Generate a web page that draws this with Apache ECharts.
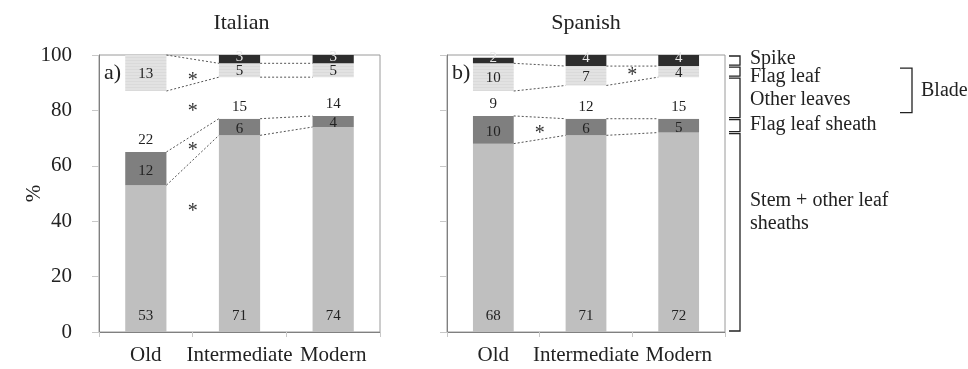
<!DOCTYPE html>
<html>
<head>
<meta charset="utf-8">
<script src="https://cdn.jsdelivr.net/npm/echarts@6/dist/echarts.min.js"></script>
<style>
  html, body { margin: 0; padding: 0; background: #fff; }
  #chart { width: 968px; height: 369px; }
</style>
</head>
<body>
<div id="chart"></div>
<script>
// Cultivar groups and y-axis ticks
const categories = ['Old', 'Intermediate', 'Modern'];
const yTicks = [0, 20, 40, 60, 80, 100];

// Italian cultivars: share of biomass (%) per organ, listed from the bottom of the stack up
const itStem = [53, 71, 74];
const itFlagSheath = [12, 6, 4];
const itOtherLeaves = [22, 15, 14];
const itFlagLeaf = [13, 5, 5];
const itSpike = [0, 3, 3];

// Spanish cultivars
const esStem = [68, 71, 72];
const esFlagSheath = [10, 6, 5];
const esOtherLeaves = [9, 12, 15];
const esFlagLeaf = [10, 7, 4];
const esSpike = [2, 4, 4];

const organNames = ['Stem + other leaf sheaths', 'Flag leaf sheath', 'Other leaves', 'Flag leaf', 'Spike'];

// Significant differences: [gap after category index, height in %]
const itSignif = [[0, 92], [0, 81], [0, 67], [0, 45]];
const esSignif = [[0, 73], [1, 94]];

const FONT = '"Liberation Serif", "Times New Roman", serif';
const INK = '#222';
const BAR_FRAC = 0.44;

const organLook = [
  { color: '#bfbfbf', label: { position: 'insideBottom', distance: 8 } },
  { color: '#7f7f7f', label: { position: 'inside', offset: [0, 2] } },
  { color: '#ffffff', label: { position: 'insideBottom', distance: 4 } },
  { color: '#e2e2e2', label: { position: 'inside', offset: [0, 1] },
    decal: { symbol: 'rect', symbolSize: 1, dashArrayX: [1, 0], dashArrayY: [1, 2], color: 'rgba(0,0,0,0.035)' } },
  { color: '#2d2d2d', label: { position: 'inside', offset: [0, -2], color: '#e8e8e8' } }
];

function barSeries(arrays, gridIdx, stackName) {
  return arrays.map((vals, k) => ({
    name: organNames[k],
    type: 'bar',
    stack: stackName,
    xAxisIndex: gridIdx,
    yAxisIndex: gridIdx,
    barWidth: (BAR_FRAC * 100) + '%',
    data: vals,
    itemStyle: Object.assign({ color: organLook[k].color }, organLook[k].decal ? { decal: organLook[k].decal } : {}),
    label: Object.assign({
      show: true,
      fontFamily: FONT,
      fontSize: 15,
      color: INK,
      formatter: p => (p.value > 0 ? String(p.value) : '')
    }, organLook[k].label),
    emphasis: { disabled: true },
    silent: true
  }));
}

// cumulative heights of the four inner boundaries of each stacked bar
function boundaries(arrays) {
  return categories.map((_, i) => {
    let s = 0;
    return arrays.slice(0, 4).map(a => (s += a[i]));
  });
}

function connectorSeries(arrays, gridIdx) {
  const tops = boundaries(arrays);
  const data = [];
  for (let i = 0; i < categories.length - 1; i++) {
    for (let k = 0; k < 4; k++) data.push([i, k]);
  }
  return {
    type: 'custom',
    xAxisIndex: gridIdx,
    yAxisIndex: gridIdx,
    silent: true,
    z: 5,
    data: data,
    renderItem: (params, api) => {
      const i = api.value(0), k = api.value(1);
      const p1 = api.coord([i, tops[i][k]]);
      const p2 = api.coord([i + 1, tops[i + 1][k]]);
      const half = api.size([1, 0])[0] * BAR_FRAC / 2;
      return {
        type: 'line',
        shape: { x1: p1[0] + half, y1: p1[1], x2: p2[0] - half, y2: p2[1] },
        style: { stroke: '#555', lineWidth: 1, lineDash: [2, 2], fill: null }
      };
    }
  };
}

function signifSeries(marks, gridIdx) {
  return {
    type: 'custom',
    xAxisIndex: gridIdx,
    yAxisIndex: gridIdx,
    silent: true,
    z: 6,
    data: marks,
    renderItem: (params, api) => {
      const p = api.coord([api.value(0), api.value(1)]);
      const half = api.size([1, 0])[0] / 2;
      return {
        type: 'text',
        x: p[0] + half,
        y: p[1] + 4,
        style: { text: '*', font: '20px ' + FONT, fill: '#333', align: 'center', verticalAlign: 'middle' }
      };
    }
  };
}

const itArrays = [itStem, itFlagSheath, itOtherLeaves, itFlagLeaf, itSpike];
const esArrays = [esStem, esFlagSheath, esOtherLeaves, esFlagLeaf, esSpike];

function xAxisDef(gridIdx) {
  return {
    type: 'category',
    gridIndex: gridIdx,
    data: categories,
    axisLine: { lineStyle: { color: '#808080', width: 1 } },
    axisTick: { show: true, length: 5, lineStyle: { color: '#c8c8c8' } },
    axisLabel: { interval: 0, hideOverlap: false, fontFamily: FONT, fontSize: 21, color: INK, margin: 13 }
  };
}

function yAxisDef(gridIdx, showLabels) {
  return {
    type: 'value',
    gridIndex: gridIdx,
    min: yTicks[0],
    max: yTicks[yTicks.length - 1],
    interval: yTicks[1] - yTicks[0],
    splitLine: { show: false },
    axisLine: { show: true, lineStyle: { color: '#808080', width: 1 } },
    axisTick: { show: true, length: 7, lineStyle: { color: '#c8c8c8' } },
    axisLabel: { show: showLabels, fontFamily: FONT, fontSize: 21, color: INK, margin: 27 },
    name: showLabels ? '%' : '',
    nameLocation: 'middle',
    nameGap: 54,
    nameMoveOverlap: false,
    nameRotate: 90,
    nameTextStyle: { fontFamily: FONT, fontSize: 21, color: INK }
  };
}

const chart = echarts.init(document.getElementById('chart'), null, { renderer: 'canvas' });

chart.setOption({
  animation: false,
  backgroundColor: '#fff',
  grid: [
    { left: 99, top: 55, width: 281, height: 277, show: true, borderColor: '#9a9a9a', borderWidth: 1, backgroundColor: 'transparent' },
    { left: 447, top: 55, width: 278, height: 277, show: true, borderColor: '#9a9a9a', borderWidth: 1, backgroundColor: 'transparent' }
  ],
  xAxis: [xAxisDef(0), xAxisDef(1)],
  yAxis: [yAxisDef(0, true), yAxisDef(1, false)],
  series: [].concat(
    barSeries(itArrays, 0, 'italian'),
    barSeries(esArrays, 1, 'spanish'),
    [connectorSeries(itArrays, 0), connectorSeries(esArrays, 1),
     signifSeries(itSignif, 0), signifSeries(esSignif, 1)]
  )
});

// Panel titles, panel letters and the organ key on the right, bracketed against
// the layers of the last Spanish bar.
function yPix(v) { return chart.convertToPixel({ yAxisIndex: 1 }, v); }
const lastIdx = categories.length - 1;
const lastCum = [0];
esArrays.forEach(a => lastCum.push(lastCum[lastCum.length - 1] + a[lastIdx]));

const textStyle = (t, extra) => Object.assign({ text: t, font: '20px ' + FONT, fill: INK, verticalAlign: 'middle' }, extra || {});
const gfx = [];
const itRect = chart.getModel().getComponent('grid', 0).coordinateSystem.getRect();
const esRect = chart.getModel().getComponent('grid', 1).coordinateSystem.getRect();

gfx.push({ type: 'text', x: itRect.x + itRect.width / 2 + 2, y: 23, style: textStyle('Italian', { font: '22px ' + FONT, align: 'center' }) });
gfx.push({ type: 'text', x: esRect.x + esRect.width / 2, y: 23, style: textStyle('Spanish', { font: '22px ' + FONT, align: 'center' }) });
gfx.push({ type: 'text', x: itRect.x + 5, y: 73, style: textStyle('a)', { font: '22px ' + FONT }) });
gfx.push({ type: 'text', x: esRect.x + 5, y: 73, style: textStyle('b)', { font: '22px ' + FONT }) });

const bx0 = esRect.x + esRect.width + 4;
const bx1 = bx0 + 11;
function bracket(yTop, yBot, x0, x1) {
  return {
    type: 'polyline',
    shape: { points: [[x0, yTop], [x1, yTop], [x1, yBot], [x0, yBot]] },
    style: { stroke: '#222', lineWidth: 1.3, fill: null }
  };
}
for (let k = 0; k < 5; k++) {
  const yb = yPix(lastCum[k]);
  const yt = yPix(lastCum[k + 1]);
  gfx.push(bracket(yt + 1, yb - 1, bx0, bx1));
}
const tx = bx1 + 10;
gfx.push({ type: 'text', x: tx, y: 59, style: textStyle('Spike') });
gfx.push({ type: 'text', x: tx, y: 77, style: textStyle('Flag leaf') });
gfx.push({ type: 'text', x: tx, y: 100, style: textStyle('Other leaves') });
gfx.push({ type: 'text', x: tx, y: 125, style: textStyle('Flag leaf sheath') });
gfx.push({ type: 'text', x: tx, y: 201, style: textStyle('Stem + other leaf') });
gfx.push({ type: 'text', x: tx, y: 224, style: textStyle('sheaths') });

// "Blade" groups the flag leaf and the other leaves
const bladeTop = yPix(lastCum[4]) + 2;
const bladeBot = yPix(lastCum[2]) - 6;
gfx.push(bracket(bladeTop, bladeBot, 900, 912));
gfx.push({ type: 'text', x: 921, y: (bladeTop + bladeBot) / 2, style: textStyle('Blade') });

chart.setOption({ graphic: { elements: gfx } });
</script>
</body>
</html>
